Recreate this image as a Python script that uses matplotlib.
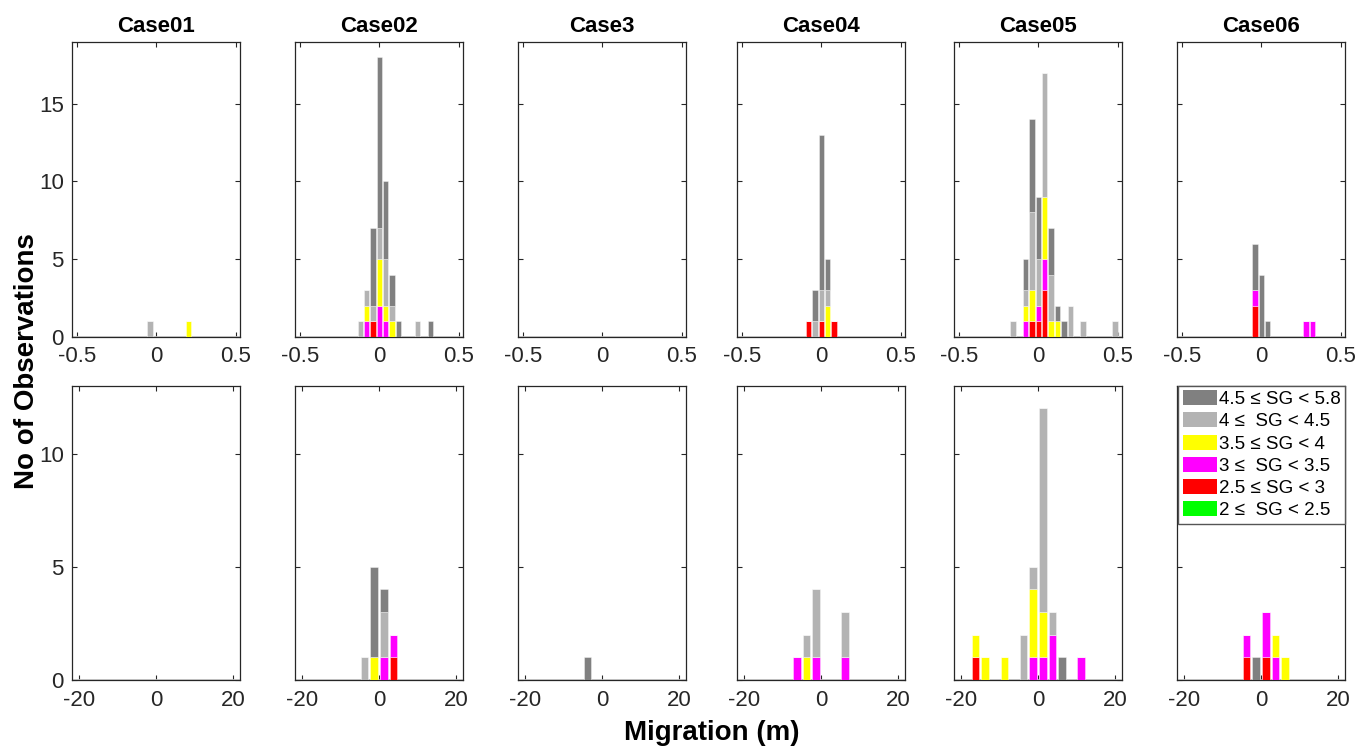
import matplotlib
matplotlib.use("Agg")
import matplotlib.pyplot as plt
from matplotlib.patches import Patch

plt.rcParams['font.family'] = ['Liberation Sans', 'DejaVu Sans']

# Panel titles
cases = ["Case01", "Case02", "Case3", "Case04", "Case05", "Case06"]

# Bin centres (top row: +-0.5 scale, bottom row: +-20 m scale)
top_bins = [-0.16, -0.12, -0.08, -0.04, 0.0, 0.04, 0.08, 0.12, 0.16, 0.20, 0.24, 0.28, 0.32, 0.48]
bot_bins = [-16.25, -13.75, -8.75, -6.25, -3.75, -1.25, 1.25, 3.75, 6.25, 11.25]

# SG classes, top of the stack first (legend order)
labels = ["4.5 \u2264 SG < 5.8", "4 \u2264  SG < 4.5", "3.5 \u2264 SG < 4",
          "3 \u2264  SG < 3.5", "2.5 \u2264 SG < 3", "2 \u2264  SG < 2.5"]
colors = ["#808080", "#b3b3b3", "#ffff00", "#ff00ff", "#ff0000", "#00ff00"]

# counts per case, top row
top_dark = [
    [0, 0, 0, 0, 0, 0, 0, 0, 0, 0, 0, 0, 0, 0],
    [0, 0, 0, 5, 11, 5, 2, 1, 0, 0, 0, 0, 1, 0],
    [0, 0, 0, 0, 0, 0, 0, 0, 0, 0, 0, 0, 0, 0],
    [0, 0, 0, 2, 10, 2, 0, 0, 0, 0, 0, 0, 0, 0],
    [0, 0, 2, 6, 4, 0, 3, 1, 1, 0, 0, 0, 0, 0],
    [0, 0, 0, 3, 4, 1, 0, 0, 0, 0, 0, 0, 0, 0],
]
top_light = [
    [0, 0, 0, 1, 0, 0, 0, 0, 0, 0, 0, 0, 0, 0],
    [0, 1, 1, 1, 2, 3, 1, 0, 0, 0, 1, 0, 0, 0],
    [0, 0, 0, 0, 0, 0, 0, 0, 0, 0, 0, 0, 0, 0],
    [0, 0, 0, 1, 2, 1, 0, 0, 0, 0, 0, 0, 0, 0],
    [1, 0, 1, 5, 3, 8, 3, 0, 0, 2, 0, 1, 0, 1],
    [0, 0, 0, 0, 0, 0, 0, 0, 0, 0, 0, 0, 0, 0],
]
top_yellow = [
    [0, 0, 0, 0, 0, 0, 0, 0, 0, 1, 0, 0, 0, 0],
    [0, 0, 1, 0, 3, 1, 1, 0, 0, 0, 0, 0, 0, 0],
    [0, 0, 0, 0, 0, 0, 0, 0, 0, 0, 0, 0, 0, 0],
    [0, 0, 0, 0, 0, 2, 0, 0, 0, 0, 0, 0, 0, 0],
    [0, 0, 1, 2, 0, 4, 1, 1, 0, 0, 0, 0, 0, 0],
    [0, 0, 0, 0, 0, 0, 0, 0, 0, 0, 0, 0, 0, 0],
]
top_magenta = [
    [0, 0, 0, 0, 0, 0, 0, 0, 0, 0, 0, 0, 0, 0],
    [0, 0, 1, 0, 2, 1, 0, 0, 0, 0, 0, 0, 0, 0],
    [0, 0, 0, 0, 0, 0, 0, 0, 0, 0, 0, 0, 0, 0],
    [0, 0, 0, 0, 0, 0, 0, 0, 0, 0, 0, 0, 0, 0],
    [0, 0, 1, 0, 1, 2, 0, 0, 0, 0, 0, 0, 0, 0],
    [0, 0, 0, 1, 0, 0, 0, 0, 0, 0, 0, 1, 1, 0],
]
top_red = [
    [0, 0, 0, 0, 0, 0, 0, 0, 0, 0, 0, 0, 0, 0],
    [0, 0, 0, 1, 0, 0, 0, 0, 0, 0, 0, 0, 0, 0],
    [0, 0, 0, 0, 0, 0, 0, 0, 0, 0, 0, 0, 0, 0],
    [0, 0, 1, 0, 1, 0, 1, 0, 0, 0, 0, 0, 0, 0],
    [0, 0, 0, 1, 1, 3, 0, 0, 0, 0, 0, 0, 0, 0],
    [0, 0, 0, 2, 0, 0, 0, 0, 0, 0, 0, 0, 0, 0],
]
top_green = [[0] * 14 for _ in range(6)]

# counts per case, bottom row
bot_dark = [
    [0, 0, 0, 0, 0, 0, 0, 0, 0, 0],
    [0, 0, 0, 0, 0, 4, 1, 0, 0, 0],
    [0, 0, 0, 0, 1, 0, 0, 0, 0, 0],
    [0, 0, 0, 0, 0, 0, 0, 0, 0, 0],
    [0, 0, 0, 0, 0, 0, 0, 0, 1, 0],
    [0, 0, 0, 0, 0, 1, 0, 0, 0, 0],
]
bot_light = [
    [0, 0, 0, 0, 0, 0, 0, 0, 0, 0],
    [0, 0, 0, 0, 1, 0, 2, 0, 0, 0],
    [0, 0, 0, 0, 0, 0, 0, 0, 0, 0],
    [0, 0, 0, 0, 1, 3, 0, 0, 2, 0],
    [0, 0, 0, 0, 2, 1, 9, 1, 0, 0],
    [0, 0, 0, 0, 0, 0, 0, 0, 0, 0],
]
bot_yellow = [
    [0, 0, 0, 0, 0, 0, 0, 0, 0, 0],
    [0, 0, 0, 0, 0, 1, 0, 0, 0, 0],
    [0, 0, 0, 0, 0, 0, 0, 0, 0, 0],
    [0, 0, 0, 0, 1, 0, 0, 0, 0, 0],
    [1, 1, 1, 0, 0, 3, 2, 0, 0, 0],
    [0, 0, 0, 0, 0, 0, 0, 1, 1, 0],
]
bot_magenta = [
    [0, 0, 0, 0, 0, 0, 0, 0, 0, 0],
    [0, 0, 0, 0, 0, 0, 1, 1, 0, 0],
    [0, 0, 0, 0, 0, 0, 0, 0, 0, 0],
    [0, 0, 0, 1, 0, 1, 0, 0, 1, 0],
    [0, 0, 0, 0, 0, 1, 1, 2, 0, 1],
    [0, 0, 0, 0, 1, 0, 2, 1, 0, 0],
]
bot_red = [
    [0, 0, 0, 0, 0, 0, 0, 0, 0, 0],
    [0, 0, 0, 0, 0, 0, 0, 1, 0, 0],
    [0, 0, 0, 0, 0, 0, 0, 0, 0, 0],
    [0, 0, 0, 0, 0, 0, 0, 0, 0, 0],
    [1, 0, 0, 0, 0, 0, 0, 0, 0, 0],
    [0, 0, 0, 0, 1, 0, 1, 0, 0, 0],
]
bot_green = [[0] * 10 for _ in range(6)]

W, H = 1369, 747
fig = plt.figure(figsize=(W / 100, H / 100), dpi=100)

# axes boxes in pixels
lefts = [72, 295, 518, 737, 954, 1177]
ax_w = 168
rows = [(41.7, 336.7), (385.7, 680.0)]


def draw_stack(ax, bins, layers, width):
    # layers given bottom -> top
    base = [0] * len(bins)
    for counts, col in layers:
        ax.bar(bins, counts, width=width, bottom=base, color=col,
               edgecolor=(1, 1, 1, 0.45), linewidth=0.6, zorder=3)
        base = [b + c for b, c in zip(base, counts)]


for r, (y0, y1) in enumerate(rows):
    for i, case in enumerate(cases):
        ax = fig.add_axes([lefts[i] / W, 1 - y1 / H, ax_w / W, (y1 - y0) / H])
        if r == 0:
            layers = [(top_green[i], colors[5]), (top_red[i], colors[4]),
                      (top_magenta[i], colors[3]), (top_yellow[i], colors[2]),
                      (top_light[i], colors[1]), (top_dark[i], colors[0])]
            draw_stack(ax, top_bins, layers, 0.034)
            ax.set_xlim(-0.53, 0.525)
            ax.set_ylim(0, 19)
            ax.set_xticks([-0.5, 0, 0.5])
            ax.set_xticklabels(["-0.5", "0", "0.5"])
            ax.set_yticks([0, 5, 10, 15])
            ax.set_title(case, fontsize=16, fontweight='bold', pad=7)
        else:
            layers = [(bot_green[i], colors[5]), (bot_red[i], colors[4]),
                      (bot_magenta[i], colors[3]), (bot_yellow[i], colors[2]),
                      (bot_light[i], colors[1]), (bot_dark[i], colors[0])]
            draw_stack(ax, bot_bins, layers, 2.0)
            ax.set_xlim(-21.85, 21.85)
            ax.set_ylim(0, 13)
            ax.set_xticks([-20, 0, 20])
            ax.set_xticklabels(["-20", "0", "20"])
            ax.set_yticks([0, 5, 10])
        ax.axhline(0, color='0.8', linewidth=1.2, zorder=2)
        ax.tick_params(direction='in', length=3.5, width=0.8, top=True, right=True,
                       labelsize=16, colors='#262626', labelcolor='#262626')
        ax.tick_params(axis='x', pad=7)
        ax.tick_params(axis='y', pad=6)
        if i > 0:
            ax.tick_params(labelleft=False)
        for s in ax.spines.values():
            s.set_linewidth(0.9)
            s.set_color('#262626')

        # legend sits in the last bottom panel
        if r == 1 and i == 5:
            handles = [Patch(facecolor=c, edgecolor='none') for c in colors]
            leg = ax.legend(handles, labels, loc='upper right', bbox_to_anchor=(1.0, 1.0),
                            borderaxespad=0, fontsize=13.5, handlelength=1.8,
                            handleheight=0.85, labelspacing=0.22, handletextpad=0.1,
                            borderpad=0.25, fancybox=False, framealpha=1)
            leg.get_frame().set_edgecolor('#555555')
            leg.get_frame().set_linewidth(1.0)

fig.text(0.0195, 0.516, "No of Observations", rotation=90, ha='center', va='center',
         fontsize=20, fontweight='bold')
fig.text(0.52, 0.019, "Migration (m)", ha='center', va='center',
         fontsize=20, fontweight='bold')

fig.savefig("out.png", dpi=100)
